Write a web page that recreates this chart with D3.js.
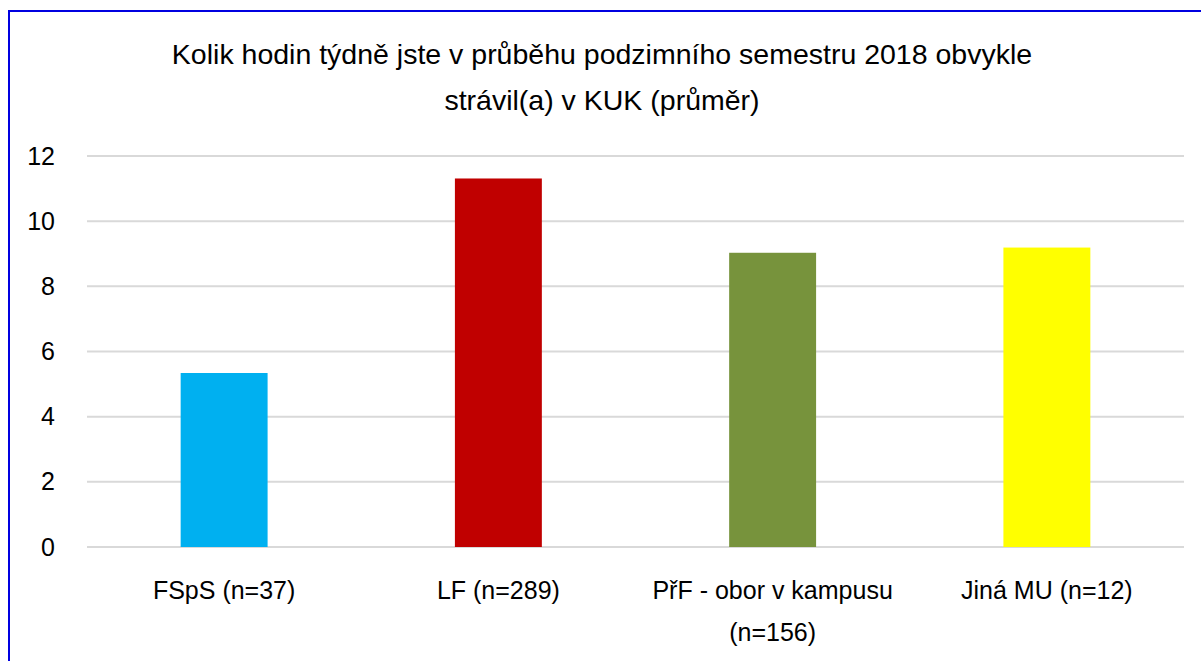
<!DOCTYPE html>
<html>
<head>
<meta charset="utf-8">
<script src="https://cdn.jsdelivr.net/npm/d3@7"></script>
<style>
  body { margin: 0; background: #fff; }
  svg { display: block; font-family: "Liberation Sans", Arial, sans-serif; }
</style>
</head>
<body>
<div id="chart"></div>
<script>
// data
const categories = [["FSpS (n=37)"], ["LF (n=289)"], ["PřF - obor v kampusu", "(n=156)"], ["Jiná MU (n=12)"]];
const values = [5.34, 11.31, 9.03, 9.19];
const colors = ["#00b0f0", "#c00000", "#77933c", "#ffff00"];
const yTicks = [0, 2, 4, 6, 8, 10, 12];
const titleLines = ["Kolik hodin týdně jste v průběhu podzimního semestru 2018 obvykle", "strávil(a) v KUK (průměr)"];

const width = 1201, height = 661;
const margin = {top: 156, right: 17, bottom: 114, left: 87};

const svg = d3.select("#chart").append("svg")
    .attr("width", width)
    .attr("height", height);

// frame (only top and left edges are visible in the original)
svg.append("rect")
    .attr("x", 9).attr("y", 11)
    .attr("width", 1300).attr("height", 800)
    .attr("fill", "none")
    .attr("stroke", "#0000e0")
    .attr("stroke-width", 2);

const x = d3.scaleBand()
    .domain(categories.map(d => d.join(" ")))
    .range([margin.left, width - margin.right])
    .paddingInner(0.683)
    .paddingOuter(0.3415);

const y = d3.scaleLinear()
    .domain([0, 12])
    .range([height - margin.bottom, margin.top]);

// gridlines
svg.append("g")
    .selectAll("line")
    .data(yTicks)
    .join("line")
    .attr("x1", margin.left)
    .attr("x2", width - margin.right)
    .attr("y1", d => y(d))
    .attr("y2", d => y(d))
    .attr("stroke", "#d9d9d9")
    .attr("stroke-width", 2);

// y axis labels
const yAxis = svg.append("g")
    .attr("transform", `translate(${margin.left},0)`)
    .call(d3.axisLeft(y).tickValues(yTicks).tickSize(0).tickPadding(32));
yAxis.select(".domain").remove();
yAxis.selectAll("text")
    .attr("font-family", "'Liberation Sans', Arial, sans-serif")
    .attr("font-size", 25)
    .attr("fill", "#000");

// bars
svg.append("g")
    .selectAll("rect")
    .data(values)
    .join("rect")
    .attr("x", (d, i) => x(categories[i].join(" ")))
    .attr("y", d => y(d))
    .attr("width", x.bandwidth())
    .attr("height", d => y(0) - y(d))
    .attr("fill", (d, i) => colors[i]);

// category labels
const cat = svg.append("g")
    .selectAll("text")
    .data(categories)
    .join("text")
    .attr("x", d => x(d.join(" ")) + x.bandwidth() / 2)
    .attr("y", 599)
    .attr("text-anchor", "middle")
    .attr("font-size", 25)
    .attr("fill", "#000");
cat.selectAll("tspan")
    .data(d => d)
    .join("tspan")
    .attr("x", function() { return d3.select(this.parentNode).attr("x"); })
    .attr("dy", (d, i) => i === 0 ? 0 : 42)
    .text(d => d);

// title
svg.append("text")
    .attr("x", 602)
    .attr("y", 64)
    .attr("text-anchor", "middle")
    .attr("font-size", 28.5)
    .attr("fill", "#000")
    .selectAll("tspan")
    .data(titleLines)
    .join("tspan")
    .attr("x", 602)
    .attr("dy", (d, i) => i === 0 ? 0 : 46)
    .text(d => d);
</script>
</body>
</html>
